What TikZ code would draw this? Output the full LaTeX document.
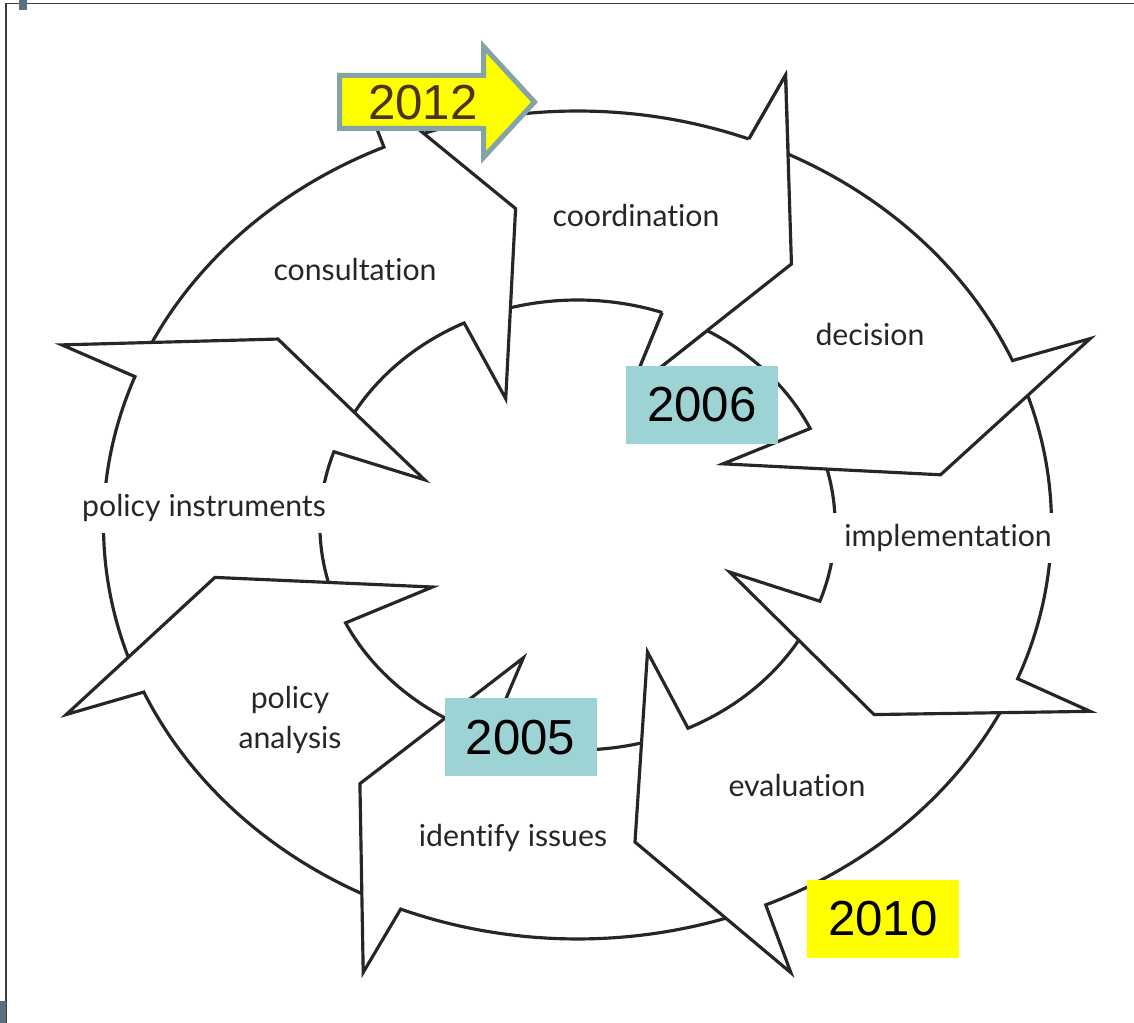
\documentclass[tikz,border=0pt]{standalone}
\usepackage{fontspec}
\usetikzlibrary{calc}
\newfontfamily\stagefont[Ligatures=NoCommon]{Lato}
\newfontfamily\yearfont{Liberation Sans}
\definecolor{TealBox}{RGB}{158,211,214}
\definecolor{MarkYellow}{RGB}{255,255,0}
\definecolor{ArrowEdge}{RGB}{132,163,166}
\definecolor{YearBrown}{RGB}{77,52,33}
\definecolor{Slate}{RGB}{88,112,130}
\definecolor{FrameGray}{RGB}{60,60,60}

\newcommand{\cyclearrow}[1]{%
  \filldraw[stagefill] ({#1+43}:4.14) arc[start angle={#1+43}, end angle={#1}, radius=4.14]
    -- ({#1-0.8}:4.85) -- ({#1-14.4}:3.21) -- ({#1+2.3}:1.41) -- ({#1+2}:2.25)
    arc[start angle={#1+2}, end angle={#1+43}, radius=2.25] -- cycle;}
\newcommand{\cyclehead}[1]{%
  \fill[white] ({#1}:4.14) -- ({#1-0.8}:4.85) -- ({#1-14.4}:3.21) -- ({#1+2.3}:1.41) -- ({#1+2}:2.25) -- cycle;
  \draw[stageline] ({#1}:4.14) -- ({#1-0.8}:4.85) -- ({#1-14.4}:3.21) -- ({#1+2.3}:1.41) -- ({#1+2}:2.25);}

\tikzset{
  stageline/.style={draw=black!85, line width=0.9pt},
  stagefill/.style={stageline, fill=white},
  stagelabel/.style={fill=white, inner xsep=4pt, inner ysep=3.2pt, align=center, text=black!85,
    font=\stagefont\fontsize{8.6}{11.4}\selectfont},
  yearbox/.style={minimum width=1.52cm, minimum height=0.78cm, inner sep=0pt,
    font=\yearfont\fontsize{14}{16}\selectfont}
}

\begin{document}
\begin{tikzpicture}
            \useasboundingbox (0,0) rectangle (11.34,-10.23);
            \draw[FrameGray, line width=0.4pt] (0.06,-10.23) -- (0.06,-0.035) -- (11.34,-0.035);
            \fill[Slate] (0.19,0) rectangle (0.27,-0.10);
            \fill[Slate] (0,-10.01) rectangle (0.06,-10.23);

            \begin{scope}[shift={(5.775,-5.25)}, xscale=1.145]
                \cyclearrow{68.8}
                \cyclearrow{114.1}
                \cyclearrow{159}
                \cyclearrow{203.8}
                \cyclearrow{248.1}
                \cyclearrow{293.4}
                \cyclearrow{338.2}
                \cyclearrow{383.4}
                \cyclehead{68.8}
            \end{scope}

            \node[stagelabel] (coordination) at (6.36,-2.16) {coordination};
            \node[stagelabel] (consultation) at (3.55,-2.70) {consultation};
            \node[stagelabel] (decision) at (8.70,-3.35) {decision};
            \node[stagelabel] (implementation) at (9.48,-5.38) {implementation};
            \node[stagelabel] (evaluation) at (7.97,-7.85) {evaluation};
            \node[stagelabel] (issues) at (5.13,-8.38) {identify issues};
            \node[stagelabel] (analysis) at (2.90,-7.20) {policy\\analysis};
            \node[stagelabel] (instruments) at (2.04,-5.08) {policy instruments};

            \filldraw[fill=MarkYellow, draw=ArrowEdge, line width=0.05cm]
                (3.395,-0.755) -- (4.835,-0.755) -- (4.835,-0.465) -- (5.345,-1.02)
                -- (4.835,-1.575) -- (4.835,-1.285) -- (3.395,-1.285) -- cycle;
            \node[yearbox, text=YearBrown] (y2012) at (4.23,-1.03) {2012};
            \node[yearbox, fill=TealBox] (y2006) at (7.02,-4.05) {2006};
            \node[yearbox, fill=TealBox] (y2005) at (5.205,-7.375) {2005};
            \node[yearbox, fill=MarkYellow] (y2010) at (8.83,-9.19) {2010};
        \end{tikzpicture}
\end{document}
